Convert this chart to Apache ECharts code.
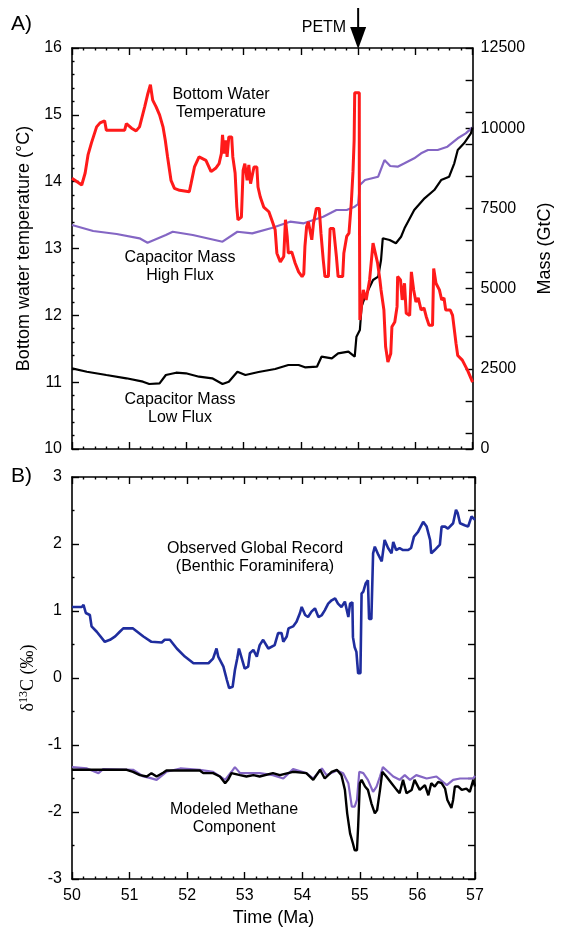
<!DOCTYPE html>
<html><head><meta charset="utf-8">
<script src="https://cdn.jsdelivr.net/npm/echarts@6/dist/echarts.min.js"></script>
<style>html,body{margin:0;padding:0;background:#fff}#c{width:562px;height:937px}</style>
</head><body><div id="c"></div><script>
// ---- data ----
const xMin = 50, xMax = 57;
const xTickLabels = [50, 51, 52, 53, 54, 55, 56, 57];
const tempTicks = [10, 11, 12, 13, 14, 15, 16];
const massLabelTicks = [0, 2500, 5000, 7500, 10000, 12500];
const massTickMarks = [0, 500, 1500, 2500, 3500, 4500, 5000, 5500, 6500, 7500, 8500, 9500, 10000, 10500, 11500, 12500];
const d13cTicks = [-3, -2, -1, 0, 1, 2, 3];
const petmAge = 55;

const bottomWaterTemp = [[50.00,14.05],[50.17,13.95],[50.23,14.13],[50.28,14.40],[50.34,14.58],[50.43,14.82],[50.49,14.88],[50.57,14.91],[50.60,14.77],[50.92,14.77],[50.95,14.87],[51.04,14.80],[51.12,14.76],[51.18,14.82],[51.27,15.12],[51.32,15.30],[51.37,15.45],[51.41,15.22],[51.47,15.12],[51.53,15.00],[51.59,14.82],[51.63,14.62],[51.67,14.37],[51.73,14.02],[51.79,13.90],[51.88,13.87],[52.05,13.85],[52.08,13.97],[52.14,14.22],[52.22,14.37],[52.34,14.32],[52.43,14.15],[52.51,14.20],[52.57,14.27],[52.61,14.42],[52.63,14.70],[52.66,14.42],[52.69,14.62],[52.71,14.37],[52.74,14.67],[52.79,14.67],[52.81,14.37],[52.85,14.13],[52.88,13.62],[52.90,13.43],[52.96,13.47],[52.99,14.17],[53.02,14.27],[53.06,14.02],[53.09,14.25],[53.12,13.97],[53.18,14.22],[53.23,14.22],[53.25,13.92],[53.29,13.77],[53.35,13.62],[53.44,13.55],[53.49,13.43],[53.55,13.28],[53.58,12.93],[53.64,12.80],[53.70,12.88],[53.73,13.43],[53.76,13.18],[53.78,12.93],[53.84,12.95],[53.90,12.78],[53.96,12.65],[54.02,12.58],[54.05,12.62],[54.07,13.03],[54.10,13.33],[54.13,13.40],[54.19,13.13],[54.22,13.38],[54.27,13.60],[54.32,13.60],[54.35,13.23],[54.39,12.83],[54.42,12.58],[54.48,12.58],[54.51,13.30],[54.57,13.30],[54.62,12.88],[54.65,12.58],[54.73,12.58],[54.75,12.93],[54.80,13.18],[54.84,13.23],[54.88,13.68],[54.91,14.15],[54.93,14.62],[54.94,15.33],[55.02,15.33],[55.02,14.13],[55.03,11.93],[55.09,12.38],[55.14,12.23],[55.20,12.53],[55.26,13.08],[55.30,12.93],[55.34,12.78],[55.38,12.53],[55.40,12.38],[55.45,12.08],[55.48,11.53],[55.52,11.30],[55.57,11.43],[55.59,11.83],[55.64,11.90],[55.68,12.13],[55.69,12.58],[55.74,12.53],[55.77,12.23],[55.81,12.48],[55.84,12.03],[55.90,12.00],[55.93,12.65],[55.97,12.38],[56.01,12.20],[56.05,12.26],[56.10,12.08],[56.15,12.11],[56.19,11.98],[56.24,11.85],[56.30,11.85],[56.32,12.70],[56.36,12.48],[56.42,12.38],[56.46,12.23],[56.50,12.26],[56.53,12.08],[56.61,12.08],[56.65,12.00],[56.71,11.58],[56.74,11.40],[56.82,11.33],[56.91,11.18],[57.00,11.00]];

const massHighFlux = [[50.00,6982],[50.37,6795],[50.78,6702],[51.18,6568],[51.32,6430],[51.64,6670],[51.76,6773],[52.11,6670],[52.63,6462],[52.89,6773],[53.15,6723],[53.49,6889],[53.81,7085],[54.05,7035],[54.22,7138],[54.39,7241],[54.62,7450],[54.80,7450],[54.94,7552],[55.00,7637],[55.03,8229],[55.12,8385],[55.35,8488],[55.46,9008],[55.56,8821],[55.69,8800],[55.81,8905],[55.98,9061],[56.10,9217],[56.22,9320],[56.39,9320],[56.56,9423],[56.74,9685],[56.88,9840],[57.00,10027]];

const massLowFlux = [[50.00,2515],[50.26,2409],[50.60,2307],[50.95,2204],[51.24,2098],[51.35,2026],[51.53,2048],[51.64,2307],[51.82,2378],[51.99,2360],[52.22,2254],[52.45,2204],[52.63,2026],[52.74,2098],[52.89,2409],[53.03,2307],[53.26,2400],[53.55,2494],[53.78,2618],[53.96,2618],[54.07,2547],[54.28,2565],[54.36,2877],[54.54,2827],[54.65,2983],[54.83,3033],[54.94,2877],[54.97,3500],[55.03,3709],[55.06,4435],[55.12,4747],[55.26,5268],[55.35,5371],[55.40,5891],[55.43,6568],[55.55,6514],[55.66,6412],[55.75,6617],[55.81,6879],[55.98,7450],[56.16,7814],[56.33,8073],[56.45,8385],[56.59,8488],[56.68,8905],[56.74,9320],[56.85,9529],[56.97,9840],[57.00,10027]];

const observedD13C = [[50.00,1.06],[50.17,1.06],[50.20,1.09],[50.24,0.97],[50.31,0.94],[50.34,0.77],[50.43,0.69],[50.57,0.54],[50.66,0.57],[50.75,0.62],[50.83,0.69],[50.89,0.74],[51.06,0.74],[51.24,0.62],[51.38,0.54],[51.56,0.53],[51.61,0.57],[51.70,0.57],[51.82,0.44],[51.96,0.32],[52.11,0.22],[52.37,0.22],[52.45,0.29],[52.51,0.44],[52.54,0.32],[52.63,0.17],[52.69,-0.03],[52.73,-0.15],[52.79,-0.13],[52.83,0.12],[52.87,0.29],[52.90,0.44],[52.95,0.29],[53.00,0.14],[53.06,0.17],[53.09,0.37],[53.15,0.42],[53.21,0.32],[53.26,0.49],[53.32,0.57],[53.41,0.44],[53.52,0.49],[53.58,0.67],[53.64,0.67],[53.67,0.54],[53.73,0.62],[53.76,0.74],[53.84,0.77],[53.90,0.84],[53.96,0.97],[53.99,1.06],[54.05,0.94],[54.10,0.91],[54.16,0.99],[54.22,1.04],[54.28,0.91],[54.34,0.94],[54.39,1.01],[54.45,1.11],[54.51,1.16],[54.57,1.19],[54.62,1.11],[54.68,1.06],[54.74,1.14],[54.80,0.91],[54.83,1.11],[54.87,1.13],[54.88,0.61],[54.91,0.46],[54.94,0.39],[54.97,0.07],[55.01,0.07],[55.03,1.26],[55.06,1.29],[55.10,1.41],[55.14,1.46],[55.16,0.88],[55.20,0.88],[55.23,1.86],[55.26,1.96],[55.32,1.84],[55.38,1.74],[55.43,2.06],[55.49,1.94],[55.55,1.86],[55.58,2.03],[55.63,1.91],[55.69,1.94],[55.75,1.91],[55.84,1.91],[55.89,1.94],[55.94,2.11],[56.01,2.18],[56.10,2.33],[56.16,2.26],[56.22,2.06],[56.24,1.86],[56.30,1.91],[56.39,1.99],[56.42,2.26],[56.48,2.26],[56.53,2.23],[56.62,2.31],[56.67,2.51],[56.70,2.46],[56.74,2.31],[56.82,2.28],[56.88,2.26],[56.94,2.41],[57.00,2.36]];

const methaneLowFlux = [[50.00,-1.37],[50.95,-1.37],[51.06,-1.40],[51.18,-1.45],[51.30,-1.47],[51.38,-1.42],[51.47,-1.47],[51.59,-1.41],[51.64,-1.38],[52.22,-1.38],[52.28,-1.42],[52.45,-1.42],[52.57,-1.47],[52.66,-1.57],[52.71,-1.52],[52.77,-1.42],[52.92,-1.45],[53.03,-1.47],[53.15,-1.45],[53.26,-1.47],[53.49,-1.42],[53.61,-1.45],[53.84,-1.40],[54.07,-1.42],[54.19,-1.52],[54.31,-1.37],[54.39,-1.50],[54.51,-1.40],[54.60,-1.37],[54.68,-1.45],[54.74,-1.67],[54.78,-2.02],[54.83,-2.32],[54.88,-2.47],[54.91,-2.57],[54.95,-2.57],[54.97,-2.22],[55.00,-1.57],[55.03,-1.52],[55.09,-1.62],[55.14,-1.67],[55.20,-1.87],[55.26,-2.02],[55.30,-1.97],[55.35,-1.67],[55.39,-1.40],[55.46,-1.47],[55.55,-1.57],[55.64,-1.67],[55.69,-1.72],[55.75,-1.52],[55.81,-1.72],[55.90,-1.67],[55.95,-1.52],[56.04,-1.67],[56.13,-1.60],[56.19,-1.75],[56.24,-1.57],[56.30,-1.62],[56.36,-1.55],[56.42,-1.57],[56.48,-1.65],[56.52,-1.82],[56.59,-1.94],[56.62,-1.82],[56.65,-1.62],[56.71,-1.62],[56.77,-1.67],[56.85,-1.65],[56.91,-1.70],[56.97,-1.52],[57.00,-1.62]];

const methaneHighFlux = [[50.00,-1.33],[50.26,-1.35],[50.46,-1.42],[50.54,-1.36],[51.06,-1.37],[51.24,-1.47],[51.35,-1.49],[51.47,-1.52],[51.64,-1.40],[51.88,-1.35],[52.22,-1.37],[52.45,-1.40],[52.57,-1.47],[52.66,-1.52],[52.77,-1.40],[52.83,-1.33],[52.92,-1.42],[53.26,-1.42],[53.49,-1.45],[53.67,-1.50],[53.84,-1.36],[54.07,-1.42],[54.19,-1.50],[54.34,-1.35],[54.42,-1.45],[54.60,-1.38],[54.71,-1.42],[54.80,-1.57],[54.86,-1.92],[54.91,-1.92],[54.95,-1.82],[54.99,-1.40],[55.06,-1.42],[55.14,-1.52],[55.23,-1.70],[55.29,-1.62],[55.35,-1.47],[55.40,-1.33],[55.49,-1.40],[55.58,-1.47],[55.69,-1.52],[55.78,-1.45],[55.87,-1.52],[55.98,-1.45],[56.16,-1.50],[56.33,-1.47],[56.51,-1.60],[56.62,-1.52],[56.74,-1.50],[56.97,-1.50],[57.00,-1.46]];

// ---- styles ----
const FONT = '"Liberation Sans", Arial, Helvetica, sans-serif';
const SERIF = '"Liberation Serif", "Times New Roman", serif';
const RED = '#ff1a1a', PURPLE = '#8466c4', BLACK = '#000000', BLUE = '#1f2d9e';
const axisLineStyle = {color: '#000', width: 1.6};
const tickStyle = {color: '#000', width: 1.4};

function xAx(gridIndex, position, showLabel, name) {
  return {
    type: 'value', gridIndex, position, min: xMin, max: xMax, interval: 1,
    axisLine: {show: true, onZero: false, lineStyle: axisLineStyle},
    axisTick: {show: true, inside: true, length: 7, lineStyle: tickStyle},
    minorTick: {show: true, splitNumber: 5, length: 2.5, lineStyle: tickStyle},
    splitLine: {show: false}, minorSplitLine: {show: false},
    axisLabel: {show: showLabel, color: '#000', fontSize: 16, fontFamily: FONT, margin: 9,
      formatter: v => xTickLabels.includes(v) ? String(v) : ''},
    name: name || '', nameLocation: 'middle', nameGap: 30,
    nameTextStyle: {color: '#000', fontSize: 18, fontFamily: FONT}
  };
}

const option = {
  animation: false,
  backgroundColor: '#fff',
  grid: [
    {left: 72, top: 48, width: 403, height: 401},
    {left: 72, top: 477, width: 403, height: 402}
  ],
  xAxis: [
    xAx(0, 'bottom', false),
    xAx(0, 'top', false),
    xAx(1, 'bottom', true, 'Time (Ma)'),
    xAx(1, 'top', false)
  ],
  yAxis: [
    {
      type: 'value', gridIndex: 0, position: 'left', min: 10, max: 16, interval: 1,
      axisLine: {show: true, lineStyle: axisLineStyle},
      axisTick: {show: true, inside: true, length: 7, lineStyle: tickStyle},
      minorTick: {show: true, splitNumber: 5, length: 2.5, lineStyle: tickStyle},
      splitLine: {show: false},
      axisLabel: {color: '#000', fontSize: 16, fontFamily: FONT, margin: 10,
        formatter: v => tempTicks.includes(v) ? String(v) : ''},
      name: 'Bottom water temperature (°C)', nameLocation: 'middle', nameGap: 33, nameRotate: 90,
      nameTextStyle: {color: '#000', fontSize: 18, fontFamily: FONT}
    },
    {
      type: 'value', gridIndex: 0, position: 'right', min: 0, max: 12500, interval: 2500,
      axisLine: {show: true, lineStyle: axisLineStyle},
      axisTick: {show: true, inside: true, length: 7, lineStyle: tickStyle, customValues: massTickMarks},
      splitLine: {show: false},
      axisLabel: {color: '#000', fontSize: 16, fontFamily: FONT, margin: 8, customValues: massLabelTicks,
        formatter: v => String(v)},
      name: 'Mass (GtC)', nameLocation: 'middle', nameGap: 61, nameRotate: 90,
      nameTextStyle: {color: '#000', fontSize: 18, fontFamily: FONT}
    },
    {
      type: 'value', gridIndex: 1, position: 'left', min: -3, max: 3, interval: 1,
      axisLine: {show: true, lineStyle: axisLineStyle},
      axisTick: {show: true, inside: true, length: 7, lineStyle: tickStyle},
      minorTick: {show: true, splitNumber: 2, length: 2.5, lineStyle: tickStyle},
      splitLine: {show: false},
      axisLabel: {color: '#000', fontSize: 16, fontFamily: FONT, margin: 10,
        formatter: v => d13cTicks.includes(v) ? String(v) : ''},
      name: '{d|δ}{s|13}{d|C (‰)}', nameLocation: 'middle', nameGap: 32, nameRotate: 90,
      nameTextStyle: {color: '#000', fontFamily: SERIF,
        rich: {
          d: {fontSize: 18, fontFamily: SERIF, color: '#000'},
          s: {fontSize: 12, fontFamily: SERIF, color: '#000', verticalAlign: 'bottom', padding: [0, 0, 9, 0]}
        }}
    },
    {
      type: 'value', gridIndex: 1, position: 'right', min: -3, max: 3, interval: 0.5,
      axisLine: {show: true, lineStyle: axisLineStyle},
      axisTick: {show: true, inside: true, length: 7, lineStyle: tickStyle},
      splitLine: {show: false},
      axisLabel: {show: false}
    }
  ],
  series: [
    {type: 'line', name: 'Bottom Water Temperature', xAxisIndex: 0, yAxisIndex: 0, data: bottomWaterTemp,
      showSymbol: false, lineStyle: {color: RED, width: 3}, z: 3},
    {type: 'line', name: 'Capacitor Mass High Flux', xAxisIndex: 0, yAxisIndex: 1, data: massHighFlux,
      showSymbol: false, lineStyle: {color: PURPLE, width: 2.2}, z: 2},
    {type: 'line', name: 'Capacitor Mass Low Flux', xAxisIndex: 0, yAxisIndex: 1, data: massLowFlux,
      showSymbol: false, lineStyle: {color: BLACK, width: 2.2}, z: 2},
    {type: 'line', name: 'Observed Global Record', xAxisIndex: 2, yAxisIndex: 2, data: observedD13C,
      showSymbol: false, lineStyle: {color: BLUE, width: 2.6}, z: 3},
    {type: 'line', name: 'Methane High Flux', xAxisIndex: 2, yAxisIndex: 2, data: methaneHighFlux,
      showSymbol: false, lineStyle: {color: PURPLE, width: 2.2}, z: 2},
    {type: 'line', name: 'Methane Low Flux', xAxisIndex: 2, yAxisIndex: 2, data: methaneLowFlux,
      showSymbol: false, lineStyle: {color: BLACK, width: 2.4}, z: 3}
  ]
};

const chart = echarts.init(document.getElementById('c'), null, {renderer: 'canvas'});
chart.setOption(option);

// annotations
const ax = chart.convertToPixel({xAxisIndex: 1}, petmAge);
const topY = 48;
function txt(text, x, y, size, align) {
  return {type: 'text', silent: true, style: {text, x, y, fill: '#000', font: size + 'px ' + FONT,
    textAlign: align || 'center', align: align || 'center', textVerticalAlign: 'middle', verticalAlign: 'middle', lineHeight: 18}};
}
chart.setOption({
  graphic: [
    txt('A)', 11, 24, 21, 'left'),
    txt('B)', 11, 476, 21, 'left'),
    txt('PETM', ax - 12, 28, 16, 'right'),
    {type: 'line', silent: true, shape: {x1: ax, y1: 8, x2: ax, y2: 30}, style: {stroke: '#000', lineWidth: 2}},
    {type: 'polygon', silent: true, shape: {points: [[ax - 8, 27], [ax + 8, 27], [ax, topY + 1]]}, style: {fill: '#000'}},
    txt('Bottom Water\nTemperature', 221, 104, 16),
    txt('Capacitor Mass\nHigh Flux', 180, 267, 16),
    txt('Capacitor Mass\nLow Flux', 180, 409, 16),
    txt('Observed Global Record\n(Benthic Foraminifera)', 255, 558, 16),
    txt('Modeled Methane\nComponent', 234, 819, 16)
  ]
});
</script></body></html>
